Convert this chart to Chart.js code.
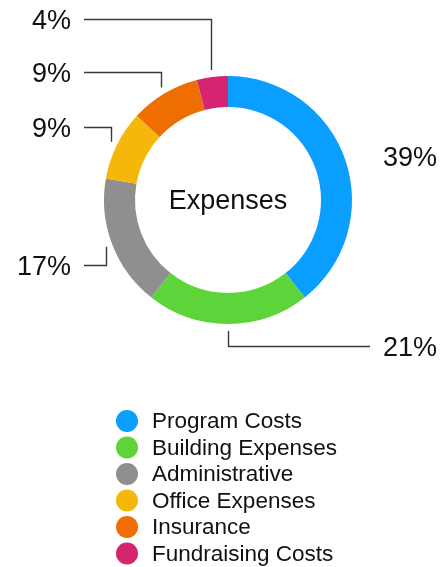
<!DOCTYPE html>
<html lang="en">

<head>
    <meta charset="UTF-8">
    <title>Expenses</title>
    <script src="https://cdn.jsdelivr.net/npm/chart.js"></script>
    <style>
        body { margin: 0; background: #fff; }
        #grafico { display: block; }
    </style>
</head>

<body>
    <canvas id="grafico" width="444" height="567"></canvas>

<script>
    var categorias = ['Program Costs', 'Building Expenses', 'Administrative', 'Office Expenses', 'Insurance', 'Fundraising Costs'];
    var valores = [39, 21, 17, 9, 9, 4];
    var cores = ['#0a9ffe', '#5dd43a', '#8f8f8f', '#f5b80a', '#ee6e02', '#d52470'];
    var titulo = 'Expenses';

    // where each percent label sits (layout only)
    var rotuloY = [156, 346, 265, 127, 72, 19];
    var rotuloLado = ['right', 'right', 'left', 'left', 'left', 'left'];
    var rotuloLinha = [false, true, true, true, true, true];

    var fonte = '"Liberation Sans", Arial, Helvetica, sans-serif';

    var pluginRotulos = {
        id: 'rotulos',
        afterDatasetsDraw(chart) {
            var ctx = chart.ctx;
            var arcos = chart.getDatasetMeta(0).data;
            var total = valores.reduce((a, b) => a + b, 0);
            ctx.save();
            ctx.strokeStyle = '#3a3a3a';
            ctx.lineWidth = 1.4;
            ctx.fillStyle = '#111';
            ctx.font = '27px ' + fonte;
            ctx.textBaseline = 'middle';
            for (var i = 0; i < arcos.length; i++) {
                var a = arcos[i].getProps(['x', 'y', 'startAngle', 'endAngle', 'outerRadius'], true);
                var meio = (a.startAngle + a.endAngle) / 2;
                var r = a.outerRadius + 7;
                var px = a.x + Math.cos(meio) * r;
                var py = a.y + Math.sin(meio) * r;
                var y = rotuloY[i];
                var direita = rotuloLado[i] == 'right';
                var xFim = direita ? 370 : 84;
                if (rotuloLinha[i]) {
                    ctx.beginPath();
                    ctx.moveTo(Math.round(px) + 0.5, py);
                    ctx.lineTo(Math.round(px) + 0.5, y + 0.5);
                    ctx.lineTo(xFim, y + 0.5);
                    ctx.stroke();
                }
                var texto = Math.round(valores[i] / total * 100) + '%';
                ctx.textAlign = direita ? 'left' : 'right';
                ctx.fillText(texto, direita ? 383 : 71, y + 3);
            }
            // center title
            var c = arcos[0];
            ctx.textAlign = 'center';
            ctx.font = '27px ' + fonte;
            ctx.fillText(titulo, c.x, c.y + 2);
            ctx.restore();
        }
    };

    var pluginLegenda = {
        id: 'legendaLista',
        afterDraw(chart) {
            var ctx = chart.ctx;
            ctx.save();
            ctx.font = '22.5px ' + fonte;
            ctx.textBaseline = 'middle';
            ctx.textAlign = 'left';
            for (var i = 0; i < categorias.length; i++) {
                var y = 421 + i * 26.5;
                ctx.fillStyle = cores[i];
                ctx.beginPath();
                ctx.arc(127, y, 11, 0, Math.PI * 2);
                ctx.fill();
                ctx.fillStyle = '#111';
                ctx.fillText(categorias[i], 152, y + 1);
            }
            ctx.restore();
        }
    };

    const ctx = document.getElementById('grafico').getContext('2d');
    const meuGrafico = new Chart(ctx, {
        type: 'doughnut',
        data: {
            labels: categorias,
            datasets: [{
                data: valores,
                backgroundColor: cores,
                borderWidth: 0,
                hoverOffset: 0
            }]
        },
        options: {
            responsive: false,
            animation: false,
            events: [],
            cutout: '75%',
            layout: {
                padding: { left: 104, right: 92, top: 76, bottom: 243 }
            },
            plugins: {
                legend: { display: false },
                tooltip: { enabled: false }
            }
        },
        plugins: [pluginRotulos, pluginLegenda]
    });
</script>
</body>

</html>
